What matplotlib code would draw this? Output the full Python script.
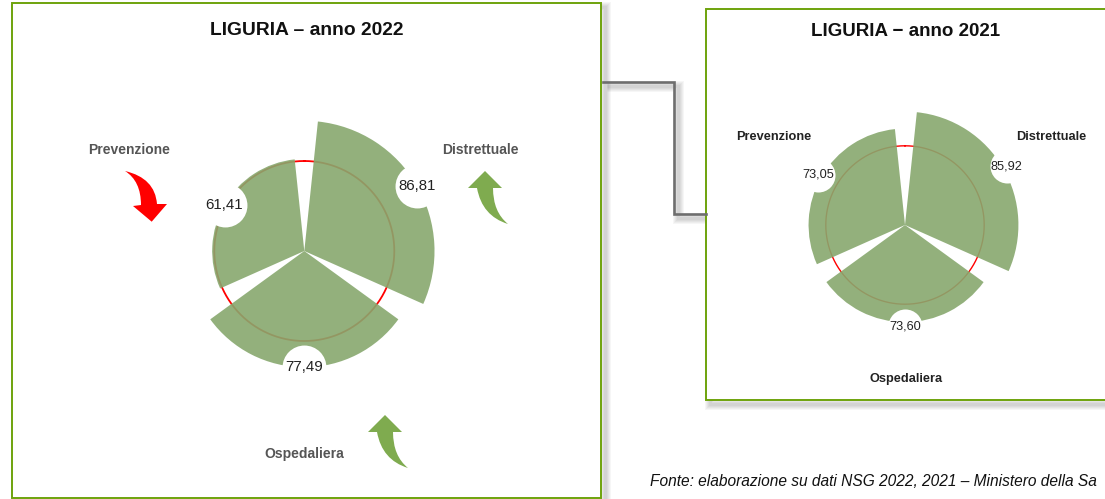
import matplotlib
matplotlib.use("Agg")
import matplotlib.pyplot as plt
import numpy as np
from matplotlib.patches import Rectangle, PathPatch
from matplotlib.path import Path

plt.rcParams['font.family'] = ['Liberation Sans', 'DejaVu Sans']

# data
areas = ['Distrettuale', 'Ospedaliera', 'Prevenzione']
angles = [60, 180, 300]
values_2022 = [86.81, 77.49, 61.41]
values_2021 = [85.92, 73.60, 73.05]
labels_2022 = ['86,81', '77,49', '61,41']
labels_2021 = ['85,92', '73,60', '73,05']
threshold = 60
width_deg = 108

W, H = 1105, 499
fig = plt.figure(figsize=(W / 100, H / 100), dpi=100)

# overlay in pixel coordinates for frames, arrows, titles
bg = fig.add_axes([0, 0, 1, 1])
bg.set_xlim(0, W)
bg.set_ylim(H, 0)
bg.axis('off')

GREEN = '#6ea30c'


def shadow_line(xs, ys, off=4):
    for lw in [11, 9, 7, 5, 3]:
        bg.plot(np.array(xs) + off, np.array(ys) + off, color='black', lw=lw * 0.72,
                alpha=0.035, solid_capstyle='butt', solid_joinstyle='miter', zorder=1)


def box(x0, y0, x1, y1):
    shadow_line([x0, x1, x1, x0, x0], [y0, y0, y1, y1, y0])
    bg.add_patch(Rectangle((x0, y0), x1 - x0, y1 - y0, fc='white', ec=GREEN, lw=1.4, zorder=3))


# connector between the two panels
conn_x = [603, 674, 674, 706]
conn_y = [82, 82, 214, 214]
shadow_line(conn_x, conn_y)
box(12, 3, 601, 498)
box(706, 9, 1125, 400)
bg.plot(conn_x, conn_y, color='#6e6e6e', lw=1.9, solid_joinstyle='miter', zorder=4)


def arrow(pts, color):
    codes = [Path.MOVETO, Path.LINETO, Path.LINETO, Path.LINETO, Path.LINETO,
             Path.CURVE3, Path.CURVE3, Path.CURVE3, Path.CURVE3, Path.CLOSEPOLY]
    bg.add_patch(PathPatch(Path(pts + [pts[0]], codes), fc=color, ec='none', zorder=5))


# red arrow down, tail to the upper left
arrow([(141, 205), (133, 206), (151.7, 221.7), (167, 204), (157, 204),
       (155, 178), (125, 171), (141, 181), (141, 205)], '#ff0000')


def green_arrow(dx, dy):
    pts = [(377, 432), (368, 432), (385, 415), (402, 432), (393, 432),
           (393, 456), (408, 468), (382, 460), (377, 432)]
    arrow([(x + dx, y + dy) for x, y in pts], '#7fab4f')


green_arrow(0, 0)
green_arrow(100, -244)

# titles and labels
bg.text(307, 30, 'LIGURIA – anno 2022', fontsize=13.9, fontweight='bold', ha='center', va='center', color='#111111', zorder=6)
bg.text(906, 31, 'LIGURIA − anno 2021', fontsize=13.5, fontweight='bold', ha='center', va='center', color='#111111', zorder=6)
for name, x, y in [('Prevenzione', 129, 150), ('Distrettuale', 480, 150), ('Ospedaliera', 304, 454)]:
    bg.text(x, y, name, fontsize=10, fontweight='bold', ha='center', va='center', color='#555555', zorder=6)
for name, x, y in [('Prevenzione', 774, 137), ('Distrettuale', 1051, 137), ('Ospedaliera', 906, 379)]:
    bg.text(x, y, name, fontsize=9.2, fontweight='bold', ha='center', va='center', color='#222222', zorder=6)
# the source line runs off the slide in the original, only this much shows
bg.text(650, 481, 'Fonte: elaborazione su dati NSG 2022, 2021 – Ministero della Sa', fontsize=11.2,
        style='italic', ha='left', va='center', color='#111111', zorder=6)


def rose(cx, cy, radius, values, labels, blob, fsize, ring_lw, label_off):
    ax = fig.add_axes([(cx - radius) / W, 1 - (cy + radius) / H, 2 * radius / W, 2 * radius / H],
                      projection='polar')
    ax.set_theta_zero_location('N')
    ax.set_theta_direction(-1)
    ax.set_ylim(0, 100)
    ax.axis('off')
    ax.patch.set_alpha(0)
    th = np.deg2rad(angles)
    ring = np.linspace(0, 2 * np.pi, 361)
    ax.plot(ring, np.full(361, threshold), color='#ff0000', lw=ring_lw, zorder=1)
    ax.bar(th, values, width=np.deg2rad(width_deg), color='#87a86e', alpha=0.9, lw=0, zorder=2)
    # label sits on a white disc at the tip of the wedge
    r_lab = np.array(values) + label_off
    ax.scatter(th, r_lab, s=blob, color='white', lw=0, zorder=3, clip_on=False)
    for t, r, lab in zip(th, r_lab, labels):
        ax.text(t, r, lab, fontsize=fsize, ha='center', va='center', color='#222222', zorder=4, clip_on=False)


rose(304.3, 251, 150, values_2022, labels_2022, 1000, 10.8, 1.3, 0)
rose(905, 225, 132, values_2021, labels_2021, 600, 9.2, 1.0, 3)

fig.savefig('out.png', dpi=100)
